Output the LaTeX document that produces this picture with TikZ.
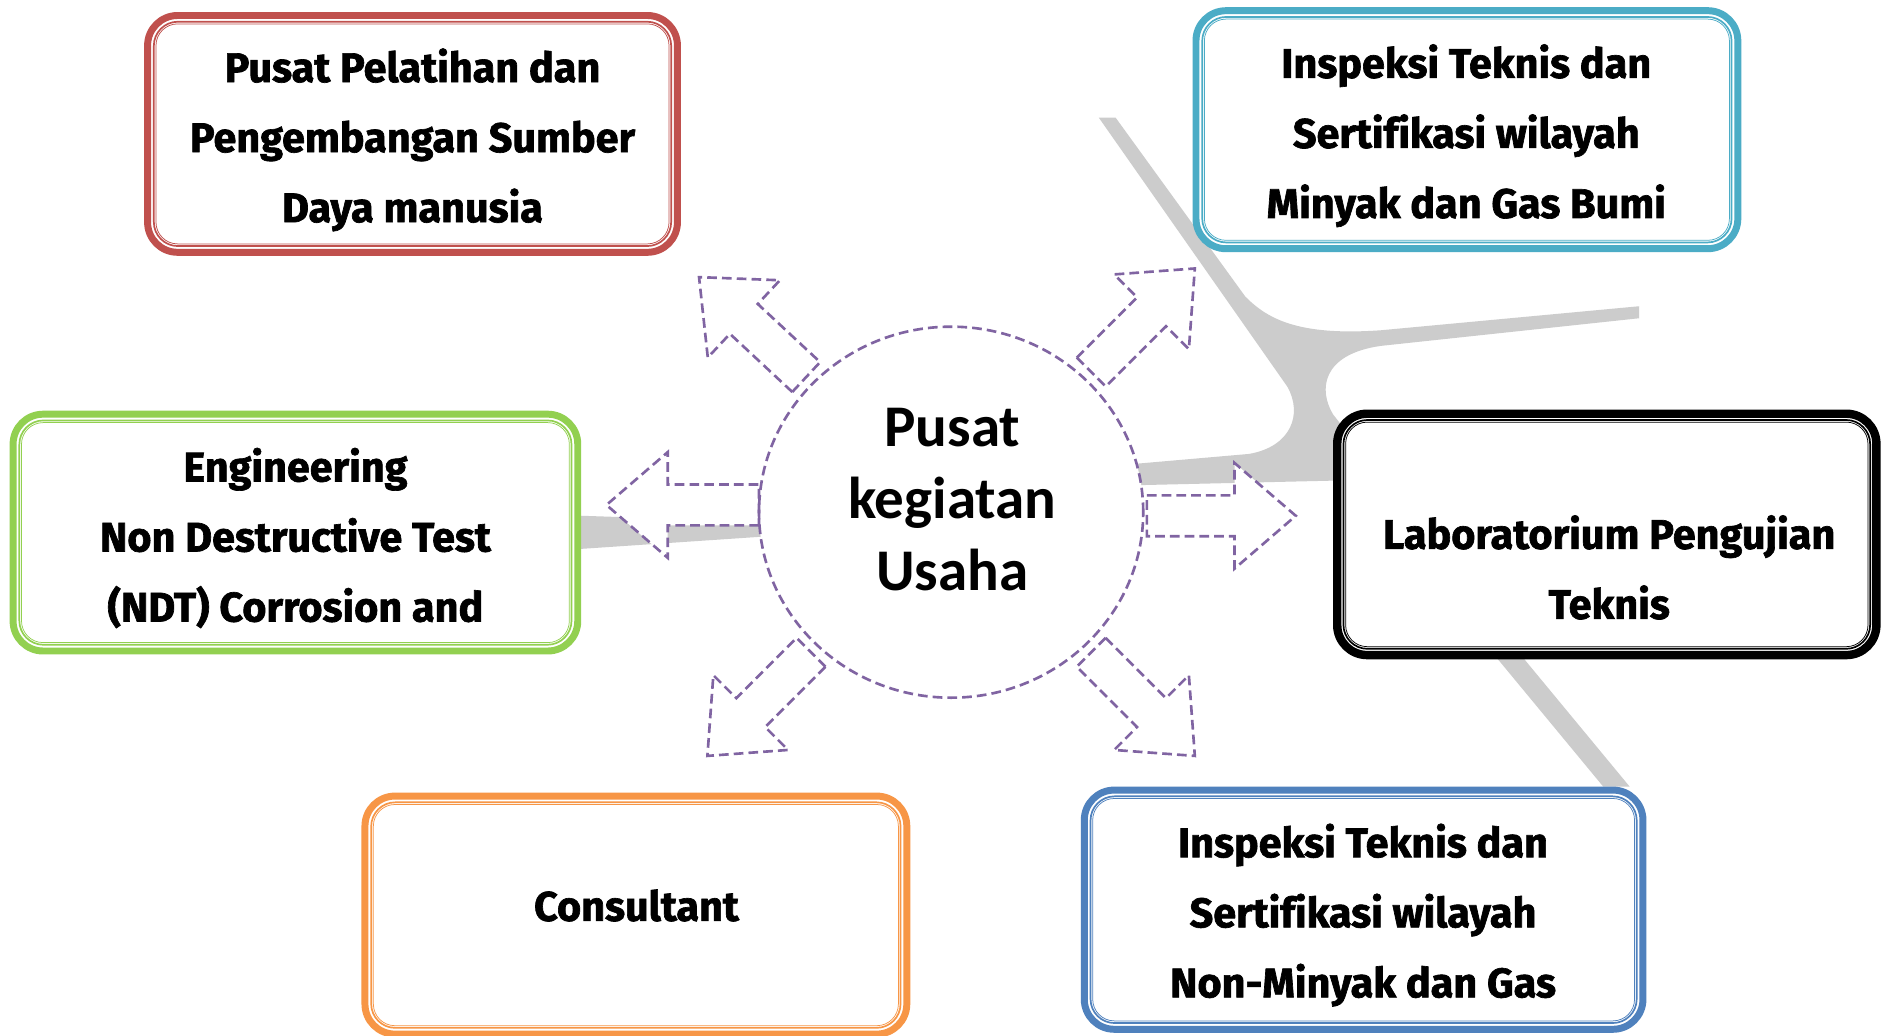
\documentclass[tikz,border=0pt]{standalone}
\usepackage{fontspec}
\setmainfont{Carlito}
\newfontfamily\boxfont{Fira Sans}[FakeBold=1.6, Ligatures=NoCommon]
\newfontfamily\centfont{Carlito}
\usetikzlibrary{shapes.geometric}
\definecolor{cred}{HTML}{C0504D}
\definecolor{ccyan}{HTML}{4BACC6}
\definecolor{cgreen}{HTML}{92D050}
\definecolor{corange}{HTML}{F79646}
\definecolor{cblue}{HTML}{4F81BD}
\definecolor{cpurple}{HTML}{8064A2}
\definecolor{croad}{HTML}{CCCCCC}
\tikzset{
  frame/.style={draw=#1, fill=white, rounded corners=0.5cm, inner sep=0pt, outer sep=0pt, rectangle},
  boxtxt/.style={align=center, font=\boxfont\bfseries\fontsize{19.6}{33.2}\selectfont, inner sep=0pt},
  blockarr/.style={draw=cpurple, fill=white, line width=1.25pt, dash pattern=on 4.6pt off 2.4pt, line join=miter},
  hubline/.style={draw=cpurple, line width=1.25pt, dash pattern=on 4.6pt off 2.4pt},
}
\newcommand\mkbox[7]{%
  \node[frame=#2, line width=#7, minimum width={(#5-#3)*0.02cm-#7}, minimum height={(#6-#4)*0.02cm-#7}] (#1) at ({(#3+#5)/2},{(#4+#6)/2}) {};
  \draw[#2, line width=0.8pt, rounded corners=0.4cm] ([shift={(5.2,5.2)}]#1.north west) rectangle ([shift={(-5.2,-5.2)}]#1.south east);
  \draw[#2, line width=0.35pt, rounded corners=0.36cm] ([shift={(7,7)}]#1.north west) rectangle ([shift={(-7,-7)}]#1.south east);
}
\newcommand\blkarrow[3]{%
  \draw[blockarr, shift={(792,426.5+#3)}, rotate=#1] (#2,-17) -- (236,-17) -- (236,-44) -- (287,0) -- (236,44) -- (236,17) -- (#2,17) -- cycle;
}
\begin{document}
\begin{tikzpicture}[x=0.02cm, y=-0.02cm]
\useasboundingbox (0,0) rectangle (1568,862);
\fill[white] (0,0) rectangle (1568,862);
% road
\fill[croad] (915,98) -- (1072,322)
  .. controls (1085,345) and (1075,372) .. (1040,378)
  -- (948,386) -- (560,432) -- (470,429) -- (470,458) -- (633,447) -- (948,404) -- (1120,400)
  -- (1249,551) -- (1335,655) -- (1357,655) -- (1271,551)
  -- (1110,345)
  .. controls (1098,325) and (1100,295) .. (1150,288)
  -- (1365,265) -- (1365,255) -- (1150,275)
  .. controls (1080,280) and (1055,265) .. (1037,247)
  -- (929,98) -- cycle;
% hub
\node[ellipse, fill=white, inner sep=0pt, minimum width=6.4cm, minimum height=6.18cm] (hub) at (792,426.5) {};
\blkarrow{0}{163}{3}
\blkarrow{180}{160}{-6}
\blkarrow{45}{165}{0}
\blkarrow{137}{165}{0}
\blkarrow{225}{165}{0}
\blkarrow{315}{165}{0}
\node[ellipse, hubline, inner sep=0pt, minimum width=6.4cm, minimum height=6.18cm] (hubring) at (hub.center) {};
\node[font=\centfont\bfseries\fontsize{28}{34}\selectfont, align=center, inner sep=0pt] (hubtxt) at (793,416) {Pusat\\kegiatan\\Usaha};
% boxes
\mkbox{bred}{cred}{120}{10}{567}{213}{3.3pt}
\mkbox{bcyan}{ccyan}{993}{6}{1450}{210}{3.3pt}
\mkbox{bgreen}{cgreen}{8}{342}{484}{545}{3.3pt}
\mkbox{bblack}{black}{1110}{341}{1566}{549}{4pt}
\mkbox{borange}{corange}{301}{660}{758}{864}{3.3pt}
\mkbox{bblue}{cblue}{900}{655}{1371}{860}{3.3pt}
\node[boxtxt] (tred) at (343.5,116.5) {Pusat Pelatihan dan\\Pengembangan Sumber\\Daya manusia};
\node[boxtxt] (tcyan) at (1221,113) {Inspeksi Teknis dan\\Sertifikasi wilayah\\Minyak dan Gas Bumi};
\node[boxtxt] (tgreen) at (246,448) {Engineering\\Non Destructive Test\\(NDT) Corrosion and};
\node[boxtxt] (tblack) at (1340,472.5) {Laboratorium Pengujian\\Teknis};
\node[boxtxt] (torange) at (530,754) {Consultant};
\node[boxtxt] (tblue) at (1135,762) {Inspeksi Teknis dan\\Sertifikasi wilayah\\Non-Minyak dan Gas};
\end{tikzpicture}
\end{document}
